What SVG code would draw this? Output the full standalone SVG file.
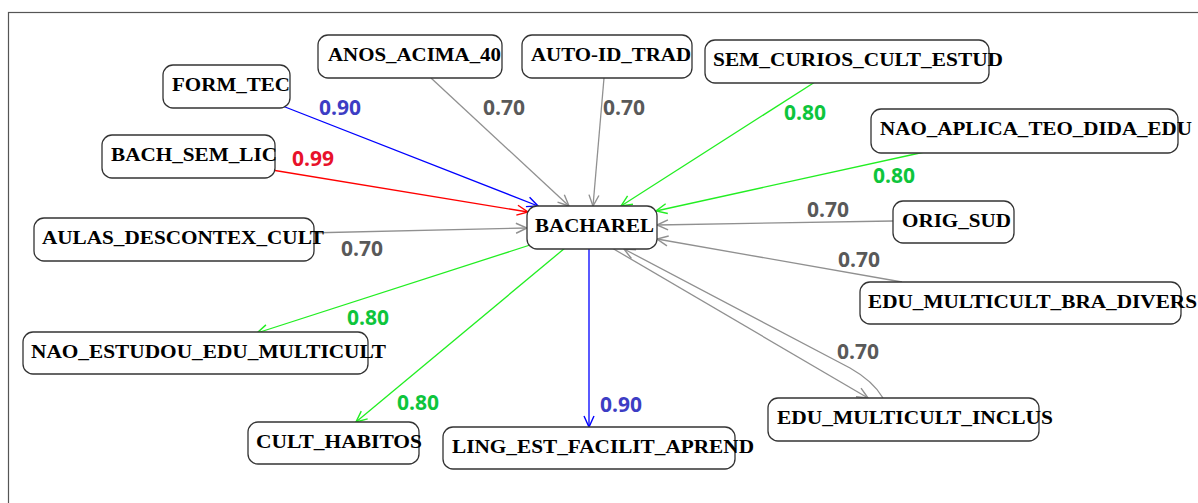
<svg xmlns="http://www.w3.org/2000/svg" width="1198" height="503" viewBox="0 0 1198 503">
<style>
.box{fill:#fff;stroke:#333;stroke-width:1.3}
.nt{font-family:"Liberation Serif",serif;font-weight:bold;font-size:18px;fill:#000}
.lb{font-family:"Open Sans","Noto Sans",sans-serif;font-weight:bold;font-size:21px}
.e{fill:none;stroke-width:1.3}
.gy{stroke:#909090}.gn{stroke:#22ee22}.bl{stroke:#0000ff}.rd{stroke:#ff0000}
.lgy{fill:#595959}.lgn{fill:#0ec53c}.lbl{fill:#3d3dc4}.lrd{fill:#e8122a}
</style>
<defs>
<marker id="agy" markerUnits="userSpaceOnUse" markerWidth="14" markerHeight="14" refX="12" refY="6" orient="auto" overflow="visible"><path d="M1,1 L12,6 L1,11" fill="none" stroke="#909090" stroke-width="1.4"/></marker>
<marker id="agn" markerUnits="userSpaceOnUse" markerWidth="14" markerHeight="14" refX="12" refY="6" orient="auto" overflow="visible"><path d="M1,1 L12,6 L1,11" fill="none" stroke="#22ee22" stroke-width="1.4"/></marker>
<marker id="abl" markerUnits="userSpaceOnUse" markerWidth="14" markerHeight="14" refX="12" refY="6" orient="auto" overflow="visible"><path d="M1,1 L12,6 L1,11" fill="none" stroke="#0000ff" stroke-width="1.4"/></marker>
<marker id="ard" markerUnits="userSpaceOnUse" markerWidth="14" markerHeight="14" refX="12" refY="6" orient="auto" overflow="visible"><path d="M1,1 L12,6 L1,11" fill="none" stroke="#ff0000" stroke-width="1.4"/></marker>
</defs>
<rect x="0" y="0" width="1198" height="503" fill="#fff"/>
<rect x="8.5" y="12.5" width="1300" height="600" fill="none" stroke="#555" stroke-width="1.2"/>
<g id="connectors">
<path class="e bl" d="M280,105 L538,206" marker-end="url(#abl)"/>
<path class="e rd" d="M272,170 L528,212" marker-end="url(#ard)"/>
<path class="e gy" d="M431,78 L569,206" marker-end="url(#agy)"/>
<path class="e gy" d="M604,78 L593,206" marker-end="url(#agy)"/>
<path class="e gn" d="M815,82 L621,206" marker-end="url(#agn)"/>
<path class="e gn" d="M929,151 L656,211" marker-end="url(#agn)"/>
<path class="e gy" d="M893,221 L657,225" marker-end="url(#agy)"/>
<path class="e gy" d="M902,282 L657,239" marker-end="url(#agy)"/>
<path class="e gy" d="M307,233 L527,228" marker-end="url(#agy)"/>
<path class="e gn" d="M530,245 L257,333" marker-end="url(#agn)"/>
<path class="e gn" d="M565,248 L356,422" marker-end="url(#agn)"/>
<path class="e bl" d="M589,249 L589,427" marker-end="url(#abl)"/>
<path class="e gy" d="M612,248 L868,398" marker-end="url(#agy)"/>
<path class="e gy" d="M883,398 C876,386 866,377 850,368 L624,249" marker-end="url(#agy)"/>
<text class="lb lbl" x="319" y="115">0.90</text>
<text class="lb lrd" x="292" y="166">0.99</text>
<text class="lb lgy" x="483" y="115">0.70</text>
<text class="lb lgy" x="603" y="115">0.70</text>
<text class="lb lgn" x="784" y="120">0.80</text>
<text class="lb lgn" x="873" y="183">0.80</text>
<text class="lb lgy" x="807" y="217">0.70</text>
<text class="lb lgy" x="838" y="267">0.70</text>
<text class="lb lgy" x="341" y="256">0.70</text>
<text class="lb lgn" x="347" y="325">0.80</text>
<text class="lb lgn" x="397" y="410">0.80</text>
<text class="lb lbl" x="600" y="412">0.90</text>
<text class="lb lgy" x="837" y="359">0.70</text>
</g>
<g id="n-bacharel"><rect class="box" x="527" y="206" width="130" height="43" rx="10"/><text class="nt" x="535" y="232" textLength="119" lengthAdjust="spacingAndGlyphs">BACHAREL</text></g>
<g id="n-form-tec"><rect class="box" x="163" y="65" width="127" height="43" rx="10"/><text class="nt" x="172" y="91" textLength="118" lengthAdjust="spacingAndGlyphs">FORM_TEC</text></g>
<g id="n-bach-sem-lic"><rect class="box" x="102" y="135" width="173" height="43" rx="10"/><text class="nt" x="111" y="161" textLength="166" lengthAdjust="spacingAndGlyphs">BACH_SEM_LIC</text></g>
<g id="n-anos"><rect class="box" x="318" y="35" width="184" height="43" rx="10"/><text class="nt" x="328" y="61" textLength="173" lengthAdjust="spacingAndGlyphs">ANOS_ACIMA_40</text></g>
<g id="n-auto"><rect class="box" x="522" y="35" width="170" height="43" rx="10"/><text class="nt" x="531" y="61" textLength="160" lengthAdjust="spacingAndGlyphs">AUTO-ID_TRAD</text></g>
<g id="n-sem-curios"><rect class="box" x="705" y="40" width="284" height="43" rx="10"/><text class="nt" x="713" y="66" textLength="290" lengthAdjust="spacingAndGlyphs">SEM_CURIOS_CULT_ESTUD</text></g>
<g id="n-nao-aplica"><rect class="box" x="871" y="109" width="307" height="44" rx="10"/><text class="nt" x="880" y="135" textLength="312" lengthAdjust="spacingAndGlyphs">NAO_APLICA_TEO_DIDA_EDU</text></g>
<g id="n-orig-sud"><rect class="box" x="893" y="201" width="121" height="42" rx="10"/><text class="nt" x="902" y="227" textLength="109" lengthAdjust="spacingAndGlyphs">ORIG_SUD</text></g>
<g id="n-aulas"><rect class="box" x="34" y="218" width="280" height="43" rx="10"/><text class="nt" x="42" y="244" textLength="282" lengthAdjust="spacingAndGlyphs">AULAS_DESCONTEX_CULT</text></g>
<g id="n-bra-divers"><rect class="box" x="860" y="282" width="321" height="42" rx="10"/><text class="nt" x="868" y="308" textLength="329" lengthAdjust="spacingAndGlyphs">EDU_MULTICULT_BRA_DIVERS</text></g>
<g id="n-nao-estudou"><rect class="box" x="23" y="332" width="345" height="42" rx="10"/><text class="nt" x="31" y="358" textLength="355" lengthAdjust="spacingAndGlyphs">NAO_ESTUDOU_EDU_MULTICULT</text></g>
<g id="n-inclus"><rect class="box" x="768" y="398" width="271" height="43" rx="10"/><text class="nt" x="777" y="424" textLength="276" lengthAdjust="spacingAndGlyphs">EDU_MULTICULT_INCLUS</text></g>
<g id="n-cult-habitos"><rect class="box" x="248" y="422" width="171" height="42" rx="10"/><text class="nt" x="256" y="448" textLength="166" lengthAdjust="spacingAndGlyphs">CULT_HABITOS</text></g>
<g id="n-ling"><rect class="box" x="443" y="427" width="292" height="42" rx="10"/><text class="nt" x="452" y="453" textLength="302" lengthAdjust="spacingAndGlyphs">LING_EST_FACILIT_APREND</text></g>
</svg>
